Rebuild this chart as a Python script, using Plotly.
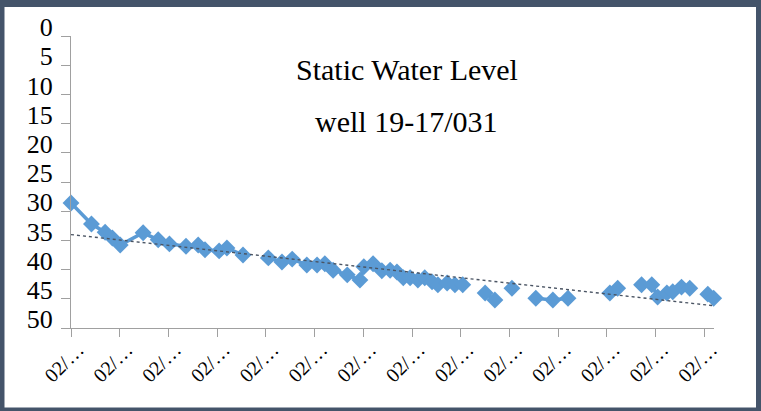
import numpy as np
import plotly.graph_objects as go

# Measurement positions along the date axis (in major-tick units) and static water level (depth)
obs_pos = [0.00, 0.42, 0.70, 0.85, 1.01, 1.48, 1.79, 2.02, 2.36, 2.61,
           2.75, 3.04, 3.20, 3.53, 4.05, 4.33, 4.54, 4.84, 5.05, 5.21,
           5.38, 5.67, 5.93, 6.01, 6.20, 6.38, 6.55, 6.69, 6.82, 6.96,
           7.12, 7.26, 7.41, 7.53, 7.72, 7.88, 8.04, 8.50, 8.70, 9.05,
           9.54, 9.89, 10.20, 11.06, 11.22, 11.71, 11.92, 12.04, 12.23, 12.35,
           12.53, 12.70, 13.07, 13.19]
level = [28.6, 32.2, 33.6, 34.6, 35.8, 33.7, 34.9, 35.6, 36.0, 35.8,
         36.6, 36.8, 36.3, 37.5, 38.0, 38.7, 38.2, 39.2, 39.2, 39.0,
         40.1, 40.9, 41.8, 39.5, 39.0, 40.2, 40.1, 40.4, 41.4, 41.4,
         41.8, 41.4, 42.1, 42.6, 42.3, 42.6, 42.6, 44.0, 45.2, 43.2,
         44.9, 45.2, 44.9, 44.0, 43.2, 42.6, 42.6, 44.7, 44.0, 43.8,
         43.0, 43.2, 44.2, 44.9]
# blank cells follow these observations (1-based), producing gaps in the line
gap_after = [14, 37, 39, 40, 43, 45, 52]

tick_vals = list(range(14))
tick_text = ["02/…"] * 14
y_ticks = [0, 5, 10, 15, 20, 25, 30, 35, 40, 45, 50]

# build line with gaps
xs, ys = [], []
for i, (x, y) in enumerate(zip(obs_pos, level), start=1):
    xs.append(x)
    ys.append(y)
    if i in gap_after:
        xs.append(None)
        ys.append(None)

# linear trendline from data
coef = np.polyfit(obs_pos, level, 1)
tx = np.array([0.0, max(obs_pos)])
ty = np.polyval(coef, tx)

blue = "#5B9BD5"
serif = "Times New Roman, Liberation Serif, DejaVu Serif, serif"

fig = go.Figure()
fig.add_trace(go.Scatter(
    x=xs, y=ys, mode="lines+markers", connectgaps=False,
    line=dict(color=blue, width=3.5),
    marker=dict(symbol="diamond", size=13, color=blue),
    cliponaxis=False, showlegend=False, hoverinfo="x+y"))
fig.add_trace(go.Scatter(
    x=tx, y=ty, mode="lines",
    line=dict(color="#4a5463", width=1.4, dash="dot"),
    cliponaxis=False, showlegend=False, hoverinfo="skip"))

L, R, T, B = 71, 47, 36, 83
W, H = 761, 411
pw, ph = W - L - R, H - T - B

def px(xp):
    return (xp - L) / pw

def py(yp):
    return (H - B - yp) / ph

fig.update_layout(
    width=W, height=H,
    margin=dict(l=L, r=R, t=T, b=B, pad=0),
    paper_bgcolor="#44546A",
    plot_bgcolor="white",
    font=dict(family=serif, color="black"),
    shapes=[dict(type="rect", xref="paper", yref="paper",
                 x0=px(4.5), x1=px(756), y0=py(407.5), y1=py(7),
                 fillcolor="white", line=dict(width=0), layer="below")],
    annotations=[
        dict(text="Static Water Level", x=px(407), y=py(69), xref="paper", yref="paper",
             showarrow=False, xanchor="center", yanchor="middle",
             font=dict(family=serif, size=30, color="black")),
        dict(text="well 19-17/031", x=px(406), y=py(121), xref="paper", yref="paper",
             showarrow=False, xanchor="center", yanchor="middle",
             font=dict(family=serif, size=30, color="black")),
    ],
    xaxis=dict(range=[0, 13.197], tickvals=tick_vals, ticktext=tick_text,
               tickangle=-45, ticks="outside", ticklen=8, tickcolor="#A0A0A0",
               showline=True, linecolor="#A0A0A0", linewidth=1.3,
               showgrid=False, zeroline=False, ticklabelshift=7, ticklabelstandoff=-7,
               tickfont=dict(family=serif, size=20, color="black")),
    yaxis=dict(range=[50, 0], tickvals=y_ticks, ticks="outside", ticklen=9,
               tickcolor="#A0A0A0", showline=True, linecolor="#A0A0A0", linewidth=1.3,
               showgrid=False, zeroline=False, ticklabelstandoff=3, ticklabelshift=9,
               tickfont=dict(family=serif, size=26, color="black")),
)

fig.write_html("out.html", config={"displayModeBar": False},
               post_script="document.body.style.margin='0';document.body.style.overflow='hidden';")
